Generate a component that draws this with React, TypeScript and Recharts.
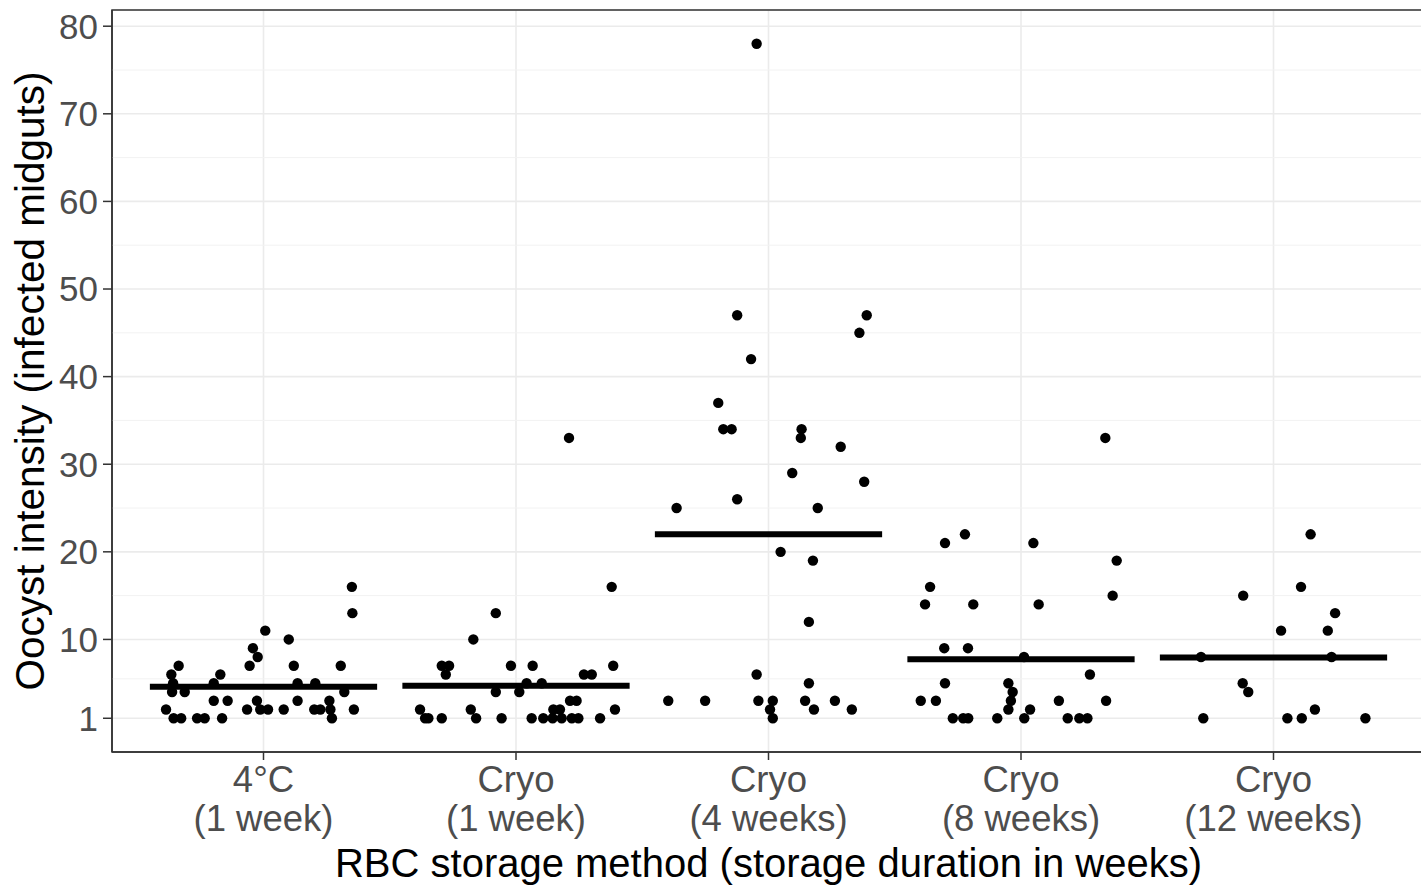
import React from 'react';
import { ComposedChart, Scatter, XAxis, YAxis, CartesianGrid, ReferenceLine, ReferenceArea } from 'recharts';

// category labels (two lines each)
const methodLabels = ['4°C', 'Cryo', 'Cryo', 'Cryo', 'Cryo'];
const durationLabels = ['(1 week)', '(1 week)', '(4 weeks)', '(8 weeks)', '(12 weeks)'];
const categoryTicks = [1, 2, 3, 4, 5];

const yTicks = [1, 10, 20, 30, 40, 50, 60, 70, 80];
const yMinor = [5.5, 15, 25, 35, 45, 55, 65, 75];

// group means (horizontal bars)
const groupMeans = [4.6, 4.7, 22.0, 7.75, 7.95];

// jittered points: x position on the category axis, y = oocyst count
const g1X = [1.350, 1.352, 1.007, 1.100, 0.958, 0.977, 0.945, 1.120, 1.306, 0.664, 0.635, 0.829, 0.642, 0.803, 1.135, 1.205, 0.638, 0.688, 1.320, 0.803, 0.858, 0.974, 1.135, 1.261, 0.614, 0.935, 0.987, 1.018, 1.080, 1.201, 1.225, 1.265, 1.358, 0.644, 0.674, 0.737, 0.767, 0.836, 1.271];
const g1Y = [16, 13, 11, 10, 9, 8, 7, 7, 7, 7, 6, 6, 5, 5, 5, 5, 4, 4, 4, 3, 3, 3, 3, 3, 2, 2, 2, 2, 2, 2, 2, 2, 2, 1, 1, 1, 1, 1, 1];

const g2X = [2.210, 2.379, 1.920, 1.831, 1.706, 1.735, 1.722, 1.980, 2.066, 2.385, 2.269, 2.300, 2.042, 2.102, 1.920, 2.013, 2.214, 2.240, 1.620, 1.821, 2.148, 2.174, 2.392, 1.640, 1.653, 1.706, 1.842, 1.943, 2.062, 2.108, 2.145, 2.181, 2.221, 2.247, 2.333];
const g2Y = [33, 16, 13, 10, 7, 7, 6, 7, 7, 7, 6, 6, 5, 5, 4, 4, 3, 3, 2, 2, 2, 2, 2, 1, 1, 1, 1, 1, 1, 1, 1, 1, 1, 1, 1];

const g3X = [2.953, 2.876, 3.389, 3.360, 2.931, 2.801, 2.821, 2.854, 3.131, 3.128, 3.286, 3.094, 3.379, 2.876, 2.636, 3.195, 3.048, 3.176, 3.160, 2.953, 3.160, 2.603, 2.749, 2.960, 3.017, 3.145, 3.263, 3.006, 3.180, 3.330, 3.017];
const g3Y = [78, 47, 47, 45, 42, 37, 34, 34, 34, 33, 32, 29, 28, 26, 25, 25, 20, 19, 12, 6, 5, 3, 3, 3, 3, 3, 3, 2, 2, 2, 1];

const g4X = [4.334, 3.778, 3.699, 4.049, 4.379, 3.640, 3.620, 3.811, 4.070, 4.363, 3.696, 3.790, 4.012, 4.273, 3.699, 3.950, 3.967, 3.603, 3.663, 3.960, 4.150, 4.337, 3.950, 4.036, 3.730, 3.771, 3.791, 3.906, 4.013, 4.185, 4.231, 4.263];
const g4Y = [33, 22, 21, 21, 19, 16, 14, 14, 14, 15, 9, 9, 8, 6, 5, 5, 4, 3, 3, 3, 3, 3, 2, 2, 1, 1, 1, 1, 1, 1, 1, 1];

const g5X = [5.147, 5.109, 4.880, 5.244, 5.030, 5.215, 4.713, 5.230, 4.878, 4.900, 5.164, 4.722, 5.055, 5.112, 5.364];
const g5Y = [22, 16, 15, 13, 11, 11, 8, 8, 5, 4, 2, 1, 1, 1, 1];

const groupsX = [g1X, g2X, g3X, g4X, g5X];
const groupsY = [g1Y, g2Y, g3Y, g4Y, g5Y];

const Y_DOMAIN: [number, number] = [-2.85, 81.85];
const X_DOMAIN: [number, number] = [0.4, 5.6];

function CategoryTick(props: any) {
  const { x, y, payload } = props;
  const i = Math.round(payload.value) - 1;
  return (
    <text x={x} y={y} textAnchor="middle" fill="#4D4D4D" fontSize={36.5}>
      <tspan x={x} dy={30}>{methodLabels[i]}</tspan>
      <tspan x={x} dy={39}>{durationLabels[i]}</tspan>
    </text>
  );
}

const Dot = (props: any) => <circle cx={props.cx} cy={props.cy} r={5.2} fill="#000" />;

export default function App() {
  return (
    <div style={{ position: 'absolute', left: 0, top: 0, width: 1421, height: 887, overflow: 'hidden', background: '#fff', fontFamily: '"Liberation Sans", Arial, sans-serif' }}>
      <ComposedChart width={1425} height={887} margin={{ top: 10, right: 0, bottom: 0, left: 0 }}>
        <CartesianGrid stroke="#EBEBEB" strokeWidth={1.6} />
        {yMinor.map((v) => (
          <ReferenceLine key={`m-${v}`} y={v} stroke="#F2F2F2" strokeWidth={1} />
        ))}
        <XAxis
          type="number"
          dataKey="x"
          domain={X_DOMAIN}
          ticks={categoryTicks}
          interval={0}
          allowDataOverflow
          height={135}
          tickSize={8}
          tick={<CategoryTick />}
          tickLine={{ stroke: '#333333', strokeWidth: 1.5 }}
          axisLine={{ stroke: '#333333', strokeWidth: 1.5 }}
          label={{ value: 'RBC storage method (storage duration in weeks)', position: 'insideBottom', offset: 10, fill: '#000', fontSize: 40 }}
        />
        <YAxis
          type="number"
          dataKey="y"
          domain={Y_DOMAIN}
          ticks={yTicks}
          interval={0}
          allowDataOverflow
          width={112}
          tickSize={9}
          tickMargin={5}
          tick={{ fill: '#4D4D4D', fontSize: 35 }}
          tickLine={{ stroke: '#333333', strokeWidth: 1.5 }}
          axisLine={{ stroke: '#333333', strokeWidth: 1.5 }}
          label={{ value: 'Oocyst intensity (infected midguts)', angle: -90, position: 'insideLeft', offset: 30, fill: '#000', fontSize: 40.5, style: { textAnchor: 'middle' } }}
        />
        <ReferenceArea x1={X_DOMAIN[0]} x2={X_DOMAIN[1]} y1={Y_DOMAIN[0]} y2={Y_DOMAIN[1]} fill="none" stroke="#333333" strokeWidth={1.5} />
        {groupsX.map((xs, g) => (
          <Scatter
            key={`g-${g}`}
            data={xs.map((x, i) => ({ x, y: groupsY[g][i] }))}
            shape={Dot}
            isAnimationActive={false}
          />
        ))}
        {groupMeans.map((m, g) => (
          <ReferenceLine
            key={`mean-${g}`}
            segment={[{ x: categoryTicks[g] - 0.45, y: m }, { x: categoryTicks[g] + 0.45, y: m }]}
            stroke="#000"
            strokeWidth={6}
          />
        ))}
      </ComposedChart>
    </div>
  );
}
